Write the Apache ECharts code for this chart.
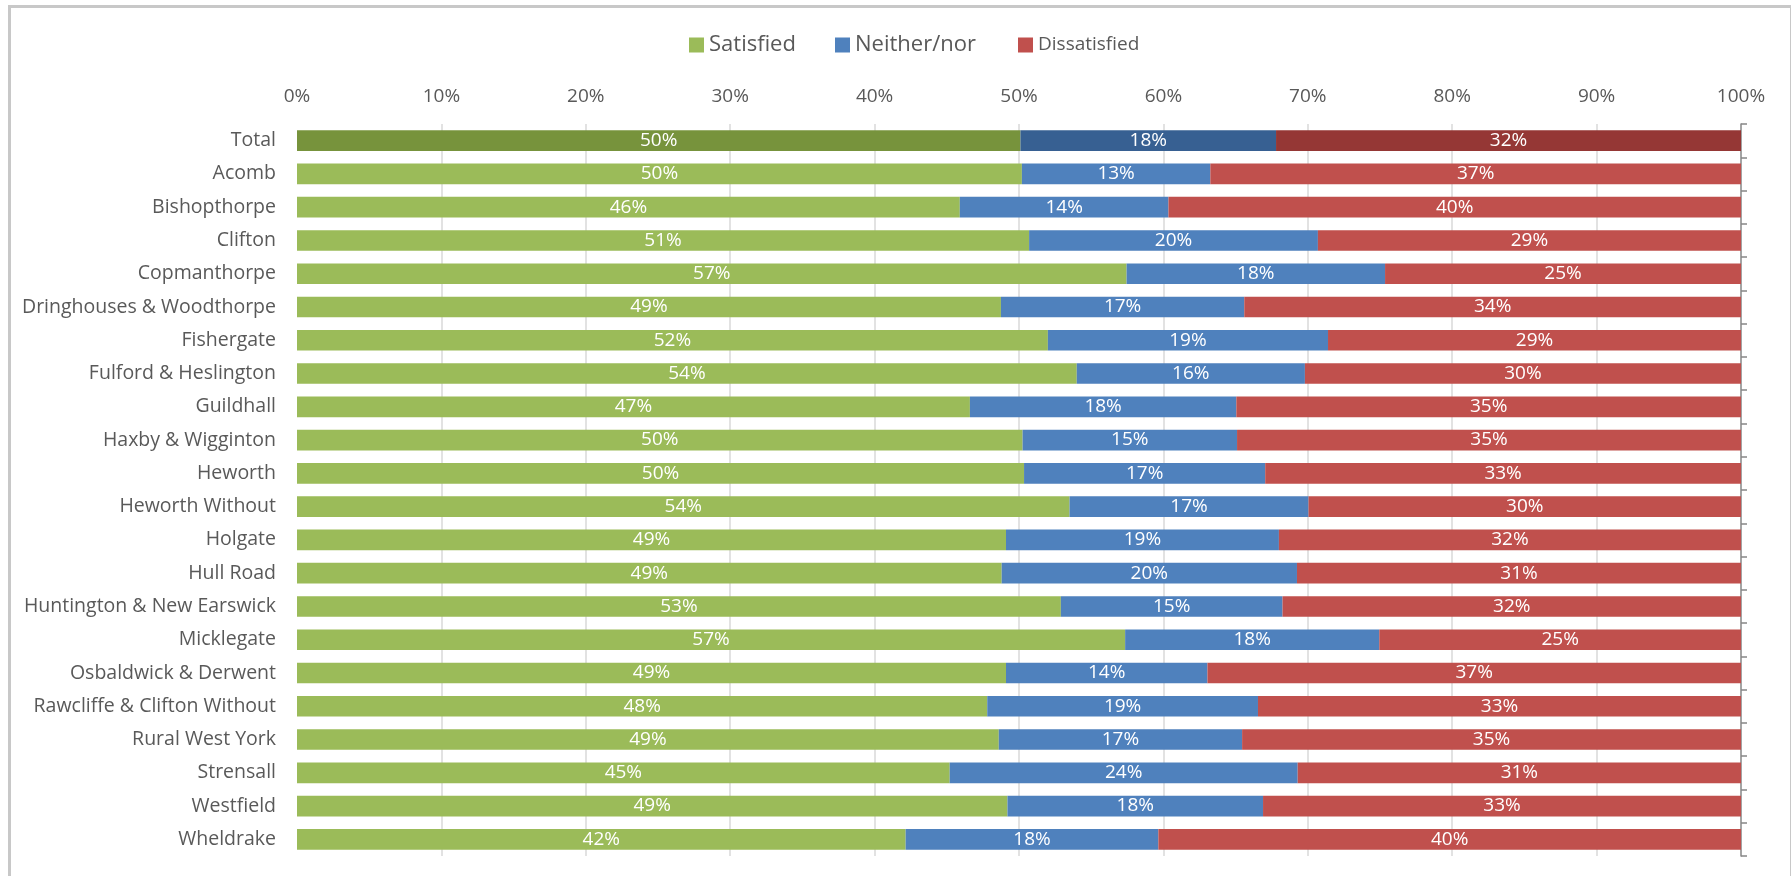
<!DOCTYPE html>
<html>
<head>
<meta charset="utf-8">
<script src="https://cdn.jsdelivr.net/npm/echarts@6/dist/echarts.min.js"></script>
<style>
html,body{margin:0;padding:0;background:#fff;}
#chart{width:1792px;height:876px;}
</style>
</head>
<body>
<div id="chart"></div>
<script>
const categories = ["Total","Acomb","Bishopthorpe","Clifton","Copmanthorpe","Dringhouses & Woodthorpe","Fishergate","Fulford & Heslington","Guildhall","Haxby & Wigginton","Heworth","Heworth Without","Holgate","Hull Road","Huntington & New Earswick","Micklegate","Osbaldwick & Derwent","Rawcliffe & Clifton Without","Rural West York","Strensall","Westfield","Wheldrake"];
const satisfied =    [50.1, 50.2, 45.9, 50.7, 57.45, 48.75, 52.0, 54.0, 46.6, 50.25, 50.35, 53.5, 49.1, 48.8, 52.9, 57.35, 49.1, 47.8, 48.6, 45.2, 49.2, 42.15];
const neither =      [17.7, 13.05, 14.45, 20.0, 17.9, 16.85, 19.4, 15.8, 18.45, 14.85, 16.7, 16.55, 18.9, 20.45, 15.35, 17.6, 13.95, 18.75, 16.85, 24.1, 17.7, 17.5];
const dissatisfied = [32.2, 36.75, 39.65, 29.3, 24.65, 34.4, 28.6, 30.2, 34.95, 34.9, 32.95, 29.95, 32.0, 30.75, 31.75, 25.05, 36.95, 33.45, 34.55, 30.7, 33.1, 40.35];
const xTicks = [0,10,20,30,40,50,60,70,80,90,100];
const seriesNames = ["Satisfied","Neither/nor","Dissatisfied"];

const colors = ["#9BBB59","#4F81BD","#C0504D"];
const totalColors = ["#77933C","#376092","#953735"];
const FONT = "Open Sans";

function buildData(arr, idx){
  return arr.map((v,i)=> i===0 ? {value:v, itemStyle:{color:totalColors[idx]}} : v);
}
const values = [satisfied, neither, dissatisfied];

const chart = echarts.init(document.getElementById('chart'));
const legendLefts = [689, 835, 1018];
const legendSizes = [22, 22, 19];

chart.setOption({
  animation:false,
  backgroundColor:'#fff',
  textStyle:{fontFamily:FONT},
  legend: seriesNames.map((n,i)=>({
    data:[n], left:legendLefts[i], top:31, padding:0,
    itemWidth:15, itemHeight:15, icon:'rect',
    textStyle:{fontFamily:FONT, fontSize:legendSizes[i], color:'#595959', lineHeight:28}
  })),
  grid:{left:297, right:51, top:124, bottom:20, containLabel:false},
  xAxis:{
    type:'value', position:'top', min:xTicks[0], max:xTicks[xTicks.length-1], interval:10,
    axisLine:{show:false}, axisTick:{show:false},
    axisLabel:{formatter:'{value}%', color:'#595959', fontSize:19, fontFamily:FONT, margin:18},
    splitLine:{show:true, showMinLine:false, showMaxLine:false, lineStyle:{color:'#d9d9d9', width:1.5}}
  },
  yAxis:[{
    type:'category', data:categories, inverse:true, position:'left',
    axisLine:{show:false}, axisTick:{show:false},
    axisLabel:{color:'#595959', fontSize:19.5, fontFamily:FONT, margin:21}
  },{
    type:'category', data:categories, inverse:true, position:'right',
    axisLine:{show:true, lineStyle:{color:'#868686', width:1.5}},
    axisTick:{show:true, inside:false, length:6, lineStyle:{color:'#868686', width:1.5}},
    axisLabel:{show:false}
  }],
  series: seriesNames.map((n,idx)=>({
    name:n, type:'bar', stack:'all', yAxisIndex:0, barWidth:'62%',
    itemStyle:{color:colors[idx]},
    label:{show:true, position:'inside', color:'#fff', fontSize:19, fontFamily:FONT,
      formatter:p=>Math.round(p.value)+'%'},
    data:buildData(values[idx], idx)
  })),
  graphic:[
    {type:'line', shape:{x1:9.5,y1:5,x2:9.5,y2:880}, style:{stroke:'#c8c8c8', lineWidth:3}, silent:true},
    {type:'line', shape:{x1:8,y1:6.5,x2:1791,y2:6.5}, style:{stroke:'#c8c8c8', lineWidth:3}, silent:true},
    {type:'line', shape:{x1:1790.5,y1:5,x2:1790.5,y2:880}, style:{stroke:'#c8c8c8', lineWidth:1}, silent:true}
  ]
});
</script>
</body>
</html>
